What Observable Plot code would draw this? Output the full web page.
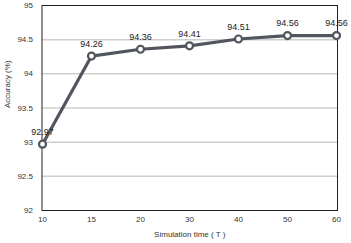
<!DOCTYPE html>
<html><head><meta charset="utf-8">
<script src="https://cdn.jsdelivr.net/npm/d3@7"></script>
<script src="https://cdn.jsdelivr.net/npm/@observablehq/plot@0.6"></script>
<style>body{margin:0;background:#fff}</style>
</head><body><div id="chart"></div>
<script>
const times = ["10","15","20","30","40","50","60"];
const accuracy = [92.97, 94.26, 94.36, 94.41, 94.51, 94.56, 94.56];
const yTicks = [92, 92.5, 93, 93.5, 94, 94.5, 95];
const gridTicks = [92.5, 93, 93.5, 94, 94.5];
const data = times.map((t, i) => ({t, v: accuracy[i]}));
const col = "#51555d";
const chart = Plot.plot({
  width: 351, height: 243,
  marginLeft: 41.5, marginRight: 14, marginTop: 5, marginBottom: 33,
  style: {fontFamily: "Liberation Sans, Arial, sans-serif", fontSize: "8px", color: "#333", background: "#fff"},
  x: {type: "point", domain: times, padding: 0, label: null},
  y: {domain: [92, 95], label: null},
  marks: [
    Plot.ruleY(gridTicks, {stroke: "#cfcfcf", strokeWidth: 1.5}),
    Plot.frame({stroke: "#222", strokeWidth: 1}),
    Plot.axisY({ticks: yTicks, tickSize: 0, tickPadding: 9, tickFormat: d => String(d), fontSize: 8}),
    Plot.axisX({tickSize: 0, tickPadding: 6, fontSize: 8, label: "Simulation time ( T )", labelAnchor: "center", labelArrow: "none", labelOffset: 26}),
    Plot.text(["Accuracy (%)"], {frameAnchor: "left", dx: -35, rotate: -90, fontSize: 8, fill: "#333"}),
    Plot.line(data, {x: "t", y: "v", stroke: col, strokeWidth: 3.2}),
    Plot.dot(data, {x: "t", y: "v", r: 3.5, fill: "#fff", stroke: col, strokeWidth: 2.2}),
    Plot.text(data, {x: "t", y: "v", text: d => d.v.toFixed(2), dy: -12, fontSize: 9, fill: "#222"})
  ]
});
document.getElementById("chart").append(chart);
</script></body></html>
